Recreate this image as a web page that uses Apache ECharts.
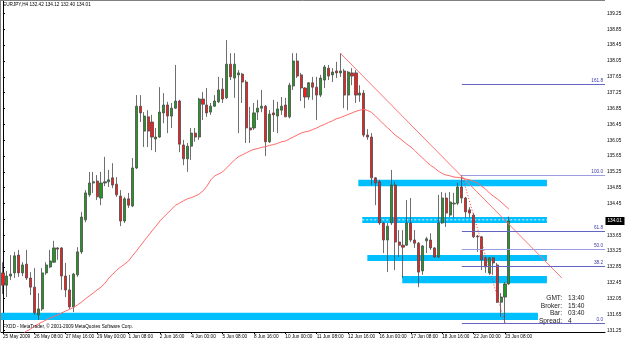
<!DOCTYPE html>
<html><head><meta charset="utf-8">
<script src="https://cdn.jsdelivr.net/npm/echarts@6/dist/echarts.min.js"></script>
<style>html,body{margin:0;padding:0;background:#fff}#c{width:625px;height:340px}</style>
</head><body><div id="c"></div>
<script>
const symbolName = 'EURJPY,H4';
const xTickLabels = ['25 May 2009','26 May 08:00','27 May 16:00','29 May 00:00','1 Jun 08:00','2 Jun 16:00','4 Jun 00:00','5 Jun 08:00','8 Jun 16:00','10 Jun 00:00','11 Jun 08:00','12 Jun 16:00','16 Jun 00:00','17 Jun 08:00','18 Jun 16:00','22 Jun 00:00','23 Jun 08:00'];
const priceTicks = [131.25,131.65,132.05,132.45,132.85,133.25,133.65,134.05,134.45,134.85,135.25,135.65,136.05,136.45,136.85,137.25,137.65,138.05,138.45,138.85,139.25];

const opens = [132.70,132.39,132.62,132.70,133.15,132.70,132.92,132.57,132.34,131.64,
131.79,132.70,132.85,132.97,133.33,133.33,132.62,132.27,131.84,132.65,
133.23,134.04,134.67,134.97,135.02,134.59,134.97,135.00,135.10,134.94,
134.64,134.01,134.57,134.39,135.35,136.91,136.28,136.64,136.51,136.08,
136.13,136.74,136.94,136.66,136.86,137.04,135.93,135.58,135.90,136.23,
136.13,137.09,136.94,136.76,136.91,137.02,137.34,137.12,137.97,137.62,
137.70,137.72,137.52,136.36,136.36,136.76,136.86,136.91,136.01,136.74,
136.66,136.81,136.94,136.64,137.42,138.05,137.70,137.37,137.14,137.50,
137.39,137.19,137.57,137.87,137.70,137.80,137.75,137.80,137.19,137.75,
137.75,137.19,137.24,136.18,136.13,135.10,135.00,133.96,133.53,133.96,
134.92,133.48,133.40,133.40,133.96,133.53,133.45,132.75,133.51,133.53,
133.33,133.10,133.96,134.59,134.16,134.44,134.46,134.87,134.59,134.29,
134.16,133.63,133.61,133.08,132.70,133.08,132.90,131.96,132.09,132.42];
const highs = [132.97,132.75,133.15,133.23,133.28,132.97,133.28,132.72,132.82,132.19,
132.82,132.97,133.28,133.51,133.35,133.35,132.95,132.65,132.70,133.35,
134.24,134.79,135.25,135.25,135.17,135.25,135.63,135.30,135.47,135.12,
134.79,134.62,134.72,135.60,137.19,137.19,136.76,136.81,136.69,136.36,
137.39,137.24,137.02,136.99,137.95,137.07,136.06,135.98,136.36,136.36,
137.12,137.27,137.37,136.99,137.19,137.65,137.62,138.58,138.25,138.25,
137.82,137.75,137.57,136.89,136.99,137.07,137.32,136.94,136.81,137.07,
137.02,137.14,137.12,137.50,138.25,138.25,137.75,137.39,137.52,137.65,
137.65,137.70,137.95,137.95,137.87,138.03,138.25,137.85,137.80,137.87,
137.82,137.44,137.32,136.33,136.23,135.12,135.05,133.98,133.96,135.30,
135.00,133.78,133.78,134.54,134.59,133.78,133.48,133.40,133.61,133.70,
133.35,134.67,134.74,134.72,134.74,134.72,134.97,135.17,134.62,134.36,
134.21,133.66,133.63,133.10,133.10,133.10,132.95,132.19,132.47,134.12];
const lows = [132.17,132.09,132.52,132.57,132.60,132.62,132.52,132.14,131.64,131.51,
131.74,132.65,132.82,132.95,133.03,132.27,132.09,131.79,131.71,132.60,
133.18,133.98,134.62,134.72,134.54,134.41,134.89,134.87,134.84,134.62,
133.88,133.96,134.34,134.36,135.32,136.51,135.88,135.88,135.80,135.75,
136.11,136.48,136.23,136.36,136.84,135.75,135.42,135.25,135.55,136.01,
136.06,136.56,136.64,136.69,136.89,136.99,136.99,137.09,137.57,137.12,
136.23,136.99,135.98,135.98,136.31,136.56,136.76,135.65,135.98,136.26,
136.23,136.69,136.64,136.60,137.32,137.62,137.04,136.86,137.07,137.07,
136.56,137.14,137.37,137.57,137.52,137.62,137.65,136.86,136.81,137.44,
136.99,137.02,136.13,136.06,134.92,134.41,133.91,133.20,132.72,133.91,
132.77,133.10,132.57,133.38,133.48,133.33,132.34,132.65,133.20,133.28,
133.08,133.08,133.94,133.86,134.11,134.09,134.41,134.46,134.09,134.09,
133.58,133.23,132.77,132.70,132.65,132.65,131.94,131.59,131.44,132.40];
const closes = [132.39,132.62,132.67,133.13,132.70,132.90,132.57,132.34,131.69,131.79,
132.70,132.90,133.00,133.33,133.30,132.62,132.27,131.84,132.67,133.23,
134.11,134.72,134.97,135.00,134.62,134.97,135.00,135.05,134.92,134.67,
134.01,134.57,134.41,135.35,136.91,136.74,136.66,136.28,136.13,136.13,
136.76,136.94,136.66,136.86,137.04,135.95,135.58,135.90,136.23,136.13,
137.09,136.96,136.74,136.91,137.04,137.32,137.09,137.97,137.65,137.97,
137.75,137.52,136.36,136.31,136.74,136.86,136.91,136.01,136.71,136.69,
136.84,136.91,136.64,137.44,138.05,137.67,137.37,137.14,137.50,137.39,
137.19,137.62,137.90,137.67,137.77,137.75,137.80,137.19,137.77,137.67,
137.19,137.24,136.18,136.13,135.10,134.97,133.96,133.53,133.88,134.92,
133.48,133.40,133.35,133.96,133.53,133.45,132.72,133.38,133.56,133.33,
133.10,133.96,134.59,134.21,134.49,134.46,134.87,134.59,134.24,134.21,
133.61,133.61,133.03,132.85,133.08,132.95,131.96,132.09,132.42,134.01];
const movingAverage = [null,null,null,null,null,131.16,131.23,131.28,131.35,131.41,
131.46,131.51,131.56,131.60,131.64,131.69,131.74,131.78,131.83,131.89,
131.96,132.04,132.12,132.19,132.27,132.34,132.44,132.57,132.67,132.77,
132.85,132.92,133.00,133.13,133.25,133.38,133.51,133.63,133.76,133.88,
134.01,134.11,134.21,134.31,134.41,134.46,134.52,134.57,134.60,134.64,
134.69,134.77,134.89,135.05,135.15,135.20,135.25,135.35,135.45,135.55,
135.63,135.68,135.73,135.78,135.82,135.84,135.87,135.89,135.92,135.94,
135.97,136.01,136.03,136.08,136.13,136.18,136.23,136.26,136.28,136.32,
136.36,136.41,136.45,136.50,136.54,136.59,136.62,136.66,136.70,136.74,
136.78,136.81,136.83,136.80,136.75,136.66,136.56,136.46,136.37,136.28,
136.18,136.11,136.03,135.95,135.88,135.79,135.69,135.60,135.50,135.42,
135.35,135.27,135.21,135.17,135.15,135.12,135.11,135.10,135.07,135.05,
135.01,134.97,134.89,134.82,134.72,134.64,134.57,134.49,134.40,134.31];

// zones: [startBar, endBar, topPrice, bottomPrice]
const zoneStart = [90.6, 91.6, 92.9, 101.8, -0.5];
const zoneEnd = [138.7, 138.7, 138.7, 138.7, 136.4];
const zoneTop = [135.05, 134.11, 133.15, 132.62, 131.69];
const zoneBottom = [134.89, 133.96, 133.00, 132.44, 131.51];
const zoneMidLine = [[91.6, 134.04], [138.7, 134.04]];
const trendLine = [[86, 138.25], [142.5, 132.57]];
const fibAnchors = [[117, 135.17], [128, 131.44]];
const fibLevels = [0, 38.2, 50, 61.8, 100, 161.8];
const fibLabels = ['0.0', '38.2', '50.0', '61.8', '100.0', '161.8'];
const infoLabels = ['GMT:', 'Broker:', 'Bar:', 'Spread:'];
const infoValues = ['13:40', '15:40', '03:40', '4'];
const copyright = 'FXDD - MetaTrader, \u00a9 2001-2009 MetaQuotes Software Corp.';

const N = 154;
const FONT = 'Liberation Sans';
const SMALL = 4.7;
const cats = Array.from({length: N}, (_, i) => String(i));
const last = closes.length - 1;
const candleData = opens.map((o, i) => [o, closes[i], lows[i], highs[i]]);
const zones = zoneStart.map((s, i) => [s, zoneEnd[i], zoneTop[i], zoneBottom[i]]);
const fibHigh = fibAnchors[0][1], fibLow = fibAnchors[1][1];
const titleText = symbolName + ' ' + [opens[last], highs[last], lows[last], closes[last]].map(v => v.toFixed(2)).join(' ');

const chart = echarts.init(document.getElementById('c'), null, {renderer: 'canvas'});
const baseGraphic = [
  {type: 'line', shape: {x1: 0.5, y1: 0, x2: 0.5, y2: 332}, style: {stroke: '#808080', lineWidth: 1}, z: 100},
  {type: 'line', shape: {x1: 0, y1: 0.5, x2: 605, y2: 0.5}, style: {stroke: '#808080', lineWidth: 1}, z: 100},
  {type: 'text', left: 3, top: 2, style: {text: titleText, fontSize: SMALL, fontFamily: FONT, fill: '#000'}, z: 100},
  {type: 'text', left: 3, top: 324, style: {text: copyright, fontSize: SMALL, fontFamily: FONT, fill: '#000'}, z: 100},
  ...infoLabels.map((t, i) => ({type: 'text', z: 100, style: {text: t, x: 562, y: 298 + i * 7.7, align: 'right', verticalAlign: 'middle', textAlign: 'right', textVerticalAlign: 'middle', fontSize: 6.6, fontFamily: FONT, fill: '#222'}})),
  ...infoValues.map((t, i) => ({type: 'text', z: 100, style: {text: t, x: 568, y: 298 + i * 7.7, align: 'left', verticalAlign: 'middle', textAlign: 'left', textVerticalAlign: 'middle', fontSize: 6.6, fontFamily: FONT, fill: '#222'}}))
];
const option = {
  animation: false,
  backgroundColor: '#ffffff',
  grid: {left: 0, right: 20, top: 1, bottom: 8, containLabel: false},
  xAxis: [{
    type: 'category', data: cats, boundaryGap: true,
    axisLine: {show: true, lineStyle: {color: '#000', width: 1}},
    axisTick: {show: true, alignWithLabel: true, length: 2, interval: (i) => i % 8 === 0 && i <= 128, lineStyle: {color: '#000'}},
    axisLabel: {interval: (i) => i % 8 === 0 && i <= 128, formatter: (v, i) => (i % 8 === 0 && xTickLabels[i / 8]) ? xTickLabels[i / 8] : '',
      align: 'left', fontSize: SMALL, color: '#000', margin: 2, fontFamily: FONT},
    splitLine: {show: false}
  }, {
    type: 'value', min: -0.5, max: N - 0.5, show: false
  }],
  yAxis: {
    type: 'value', position: 'right', min: 131.207, max: 139.566, scale: true,
    axisLine: {show: true, lineStyle: {color: '#000', width: 1}},
    axisTick: {show: true, length: 2, customValues: priceTicks, lineStyle: {color: '#000'}},
    axisLabel: {customValues: priceTicks, formatter: (v) => Number(v).toFixed(2), fontSize: SMALL, color: '#000', margin: 2, fontFamily: FONT},
    splitLine: {show: false}
  },
  series: [
    {
      type: 'custom', xAxisIndex: 1, yAxisIndex: 0, z: 1, silent: true,
      data: zones,
      renderItem: (params, api) => {
        const p0 = api.coord([api.value(0), api.value(2)]);
        const p1 = api.coord([api.value(1), api.value(3)]);
        return {type: 'rect', shape: {x: p0[0], y: p0[1], width: p1[0] - p0[0], height: p1[1] - p0[1]}, style: {fill: '#00bfff'}};
      }
    },
    {
      type: 'line', xAxisIndex: 1, yAxisIndex: 0, z: 2, silent: true, symbol: 'none',
      data: zoneMidLine, lineStyle: {color: '#e6f7ff', width: 1, type: [2, 2]}
    },
    {
      type: 'candlestick', xAxisIndex: 0, yAxisIndex: 0, z: 3, barWidth: 2.6,
      data: candleData,
      itemStyle: {color: '#1f9a1f', color0: '#ff1a1a', borderColor: '#4a4a4a', borderColor0: '#4a4a4a', borderWidth: 0.8}
    },
    {
      type: 'line', xAxisIndex: 0, yAxisIndex: 0, z: 4, silent: true, symbol: 'none',
      data: movingAverage, connectNulls: false, lineStyle: {color: '#ff6a6a', width: 1}
    },
    {
      type: 'line', xAxisIndex: 1, yAxisIndex: 0, z: 5, silent: true, symbol: 'none',
      data: trendLine, lineStyle: {color: '#ff7474', width: 1}
    },
    {
      type: 'line', xAxisIndex: 1, yAxisIndex: 0, z: 5, silent: true, symbol: 'none',
      data: fibAnchors, lineStyle: {color: '#ff3030', width: 1, type: [1, 2]}
    },
    {
      type: 'custom', xAxisIndex: 1, yAxisIndex: 0, z: 6, silent: true,
      data: fibLevels.map(l => [l]),
      renderItem: (params, api) => {
        const lvl = api.value(0);
        const price = fibLow + (fibHigh - fibLow) * lvl / 100;
        const p = api.coord([fibAnchors[0][0], price]);
        const cs = params.coordSys;
        const xr = cs.x + cs.width;
        const light = (lvl === 100 || lvl === 50);
        return {type: 'group', children: [
          {type: 'line', shape: {x1: p[0], y1: Math.round(p[1]) + 0.5, x2: xr, y2: Math.round(p[1]) + 0.5},
            style: {stroke: light ? '#9c9ce0' : '#6464c4', lineWidth: 1}},
          {type: 'text', style: {text: fibLabels[params.dataIndex], x: xr - 2, y: Math.round(p[1]) - 0.5,
            align: 'right', verticalAlign: 'bottom', textAlign: 'right', textVerticalAlign: 'bottom',
            fontSize: SMALL, fontFamily: FONT, fill: '#3a3aa8'}}
        ]};
      }
    }
  ],
  graphic: baseGraphic
};
chart.setOption(option);

// current price tag on the right axis, positioned through the y scale
const tagY = chart.convertToPixel({yAxisIndex: 0}, closes[last]);
chart.setOption({graphic: baseGraphic.concat([
  {type: 'rect', z: 110, shape: {x: 605.5, y: Math.round(tagY) - 4, width: 19, height: 8}, style: {fill: '#000'}},
  {type: 'text', z: 111, style: {text: closes[last].toFixed(2), x: 607.5, y: Math.round(tagY), verticalAlign: 'middle', textVerticalAlign: 'middle', fontSize: SMALL, fontFamily: FONT, fill: '#fff'}}
])});
</script>
</body></html>
